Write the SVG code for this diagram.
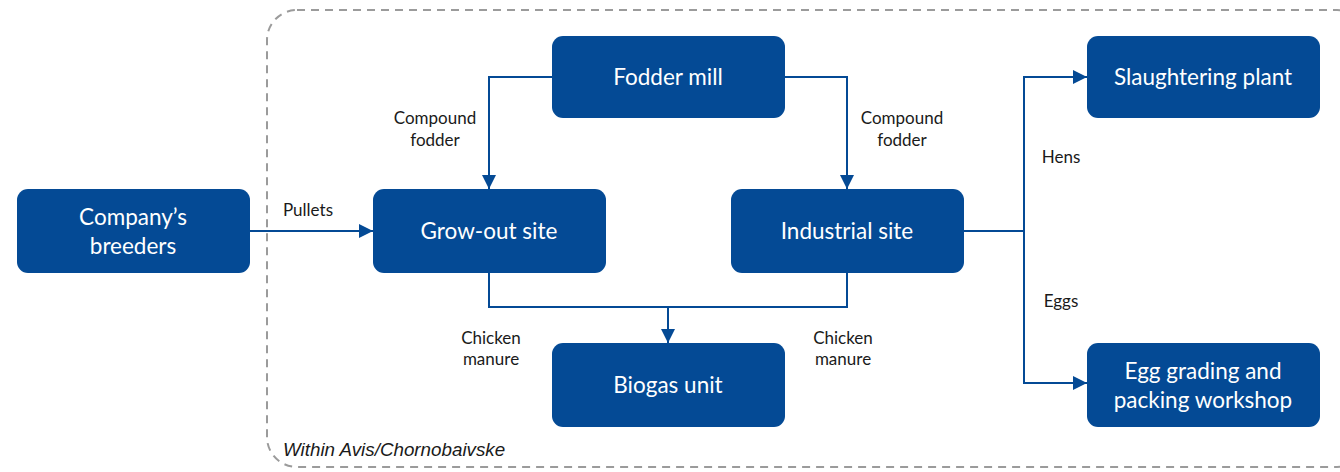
<svg xmlns="http://www.w3.org/2000/svg" width="1340" height="472" viewBox="0 0 1340 472">
  <style>
    .node rect { fill: #044a95; }
    .node text { fill: #ffffff; font-family: Lato, "Open Sans", sans-serif; font-size: 22.5px; text-anchor: middle; }
    .lbl { fill: #1a1a1a; font-family: Lato, "Open Sans", sans-serif; font-size: 17px; text-anchor: middle; }
    .conn { fill: none; stroke: #044a95; stroke-width: 2; }
    .boundary { fill: none; stroke: #9b9b9b; stroke-width: 2; stroke-dasharray: 8 6; }
  </style>
  <defs>
    <marker id="arr" viewBox="0 0 14 14" refX="14" refY="7" markerWidth="14" markerHeight="14" markerUnits="userSpaceOnUse" orient="auto">
      <path d="M0,0 L14,7 L0,14 Z" fill="#044a95"/>
    </marker>
  </defs>

  <!-- site boundary -->
  <rect class="boundary" x="267" y="10" width="1100" height="457" rx="30" ry="30"/>
  <text x="283" y="456" style="font-family: 'Liberation Sans', Arial, sans-serif; font-size: 18.8px; font-style: italic; fill: #1a1a1a;">Within Avis/Chornobaivske</text>

  <!-- connectors -->
  <g id="connectors">
    <path class="conn" d="M250,231 H373" marker-end="url(#arr)"/>
    <path class="conn" d="M552,77 H489 V189" marker-end="url(#arr)"/>
    <path class="conn" d="M785,77 H847 V189" marker-end="url(#arr)"/>
    <path class="conn" d="M489,272 V307 H847 V272"/>
    <path class="conn" d="M668,307 V343" marker-end="url(#arr)"/>
    <path class="conn" d="M963,231 H1024"/>
    <path class="conn" d="M1024,231 V77 H1087" marker-end="url(#arr)"/>
    <path class="conn" d="M1024,231 V383 H1087" marker-end="url(#arr)"/>
  </g>

  <!-- connector labels -->
  <g id="labels">
    <text class="lbl" x="308" y="216">Pullets</text>
    <text class="lbl" x="435" y="124">Compound</text>
    <text class="lbl" x="435" y="146">fodder</text>
    <text class="lbl" x="902" y="124">Compound</text>
    <text class="lbl" x="902" y="146">fodder</text>
    <text class="lbl" x="1061" y="163">Hens</text>
    <text class="lbl" x="1061" y="307">Eggs</text>
    <text class="lbl" x="491" y="344">Chicken</text>
    <text class="lbl" x="491" y="365">manure</text>
    <text class="lbl" x="843" y="344">Chicken</text>
    <text class="lbl" x="843" y="365">manure</text>
  </g>

  <!-- nodes -->
  <g id="breeders" class="node">
    <rect x="17" y="189" width="233" height="84" rx="11"/>
    <text x="133" y="225">Company’s</text>
    <text x="133" y="254">breeders</text>
  </g>
  <g id="grow-out" class="node">
    <rect x="373" y="189" width="233" height="84" rx="11"/>
    <text x="489" y="239">Grow-out site</text>
  </g>
  <g id="fodder-mill" class="node">
    <rect x="552" y="36" width="233" height="82" rx="11"/>
    <text x="668" y="85">Fodder mill</text>
  </g>
  <g id="industrial" class="node">
    <rect x="731" y="189" width="233" height="84" rx="11"/>
    <text x="847" y="239">Industrial site</text>
  </g>
  <g id="biogas" class="node">
    <rect x="552" y="343" width="233" height="84" rx="11"/>
    <text x="668" y="393">Biogas unit</text>
  </g>
  <g id="slaughter" class="node">
    <rect x="1087" y="36" width="233" height="82" rx="11"/>
    <text x="1203" y="85">Slaughtering plant</text>
  </g>
  <g id="egg-grading" class="node">
    <rect x="1087" y="343" width="233" height="84" rx="11"/>
    <text x="1203" y="379">Egg grading and</text>
    <text x="1203" y="408">packing workshop</text>
  </g>
</svg>
